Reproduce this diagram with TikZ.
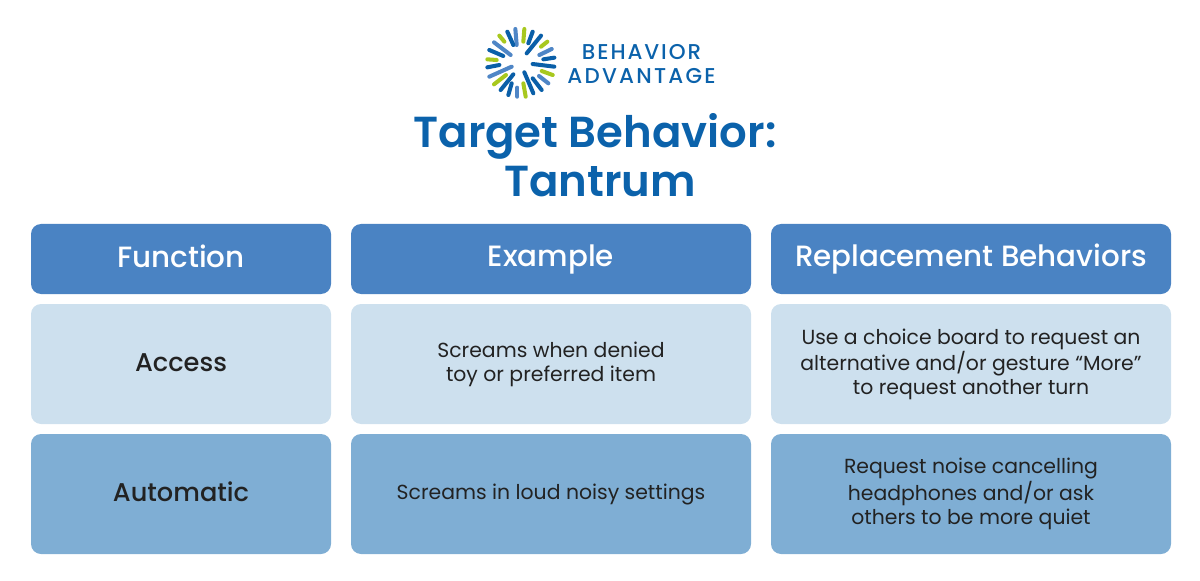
\documentclass[tikz,border=0pt]{standalone}
\usepackage{fontspec}
\setmainfont[BoldFont={Poppins SemiBold}]{Poppins}
\newfontfamily\mediumfont{Poppins Medium}
\definecolor{headblue}{HTML}{4A83C3}
\definecolor{paleblue}{HTML}{CDE0EE}
\definecolor{midblue}{HTML}{7FAED4}
\definecolor{titleblue}{HTML}{0B62AB}
\definecolor{logodark}{HTML}{0A5FA8}
\definecolor{logosteel}{HTML}{4F86C6}
\definecolor{logogreen}{HTML}{A8C81E}
\definecolor{inkdark}{HTML}{222222}
\tikzset{
  cell/.style={rounded corners=0.2cm,inner sep=0pt,align=center,text=inkdark,font=\fontsize{11.6}{13.6}\selectfont},
  headcell/.style={cell,fill=headblue,text=white,minimum height=1.4cm,font=\fontsize{16.7}{18}\mediumfont\selectfont,execute at begin node={\rule[-3.5pt]{0pt}{16.5pt}}},
  palecell/.style={cell,fill=paleblue,minimum height=2.4cm},
  midcell/.style={cell,fill=midblue,minimum height=2.4cm},
  narrow/.style={minimum width=6cm},
  middle/.style={minimum width=8cm},
  rowname/.style={font=\fontsize{14.6}{16}\mediumfont\selectfont,execute at begin node={\rule[-2.9pt]{0pt}{14.4pt}}},
  spoke/.style={line width=2.3pt,line cap=round},
  logotext/.style={text=titleblue,inner sep=0pt,font=\fontsize{12.2}{14}\mediumfont\selectfont},
  titletext/.style={text=titleblue,anchor=base,inner sep=0pt,font=\fontsize{24.7}{28}\selectfont\bfseries}
}
\begin{document}
\begin{tikzpicture}
\useasboundingbox (0,0) rectangle (24,11.6);

% -- logo
\begin{scope}[shift={(9.4,11.3)},x=0.00667cm,y=-0.00667cm]
\foreach \xa/\ya/\xb/\yb/\col in {
  136/42/140/90/logosteel, 163/42/160/80/logogreen, 188/50/175/85/logodark,
  213/62/170/115/logodark, 232/80/213/95/logogreen, 245/102/208/120/logosteel,
  253/128/220/133/logodark, 253/155/188/147/logodark, 248/180/215/168/logogreen,
  235/205/207/183/logosteel, 215/225/188/190/logodark, 190/235/163/172/logodark,
  167/245/160/205/logogreen, 142/245/142/218/logosteel, 115/240/125/205/logodark,
  92/225/130/178/logodark, 72/208/108/180/logogreen, 58/185/125/155/logosteel,
  52/157/88/150/logodark, 52/133/80/135/logogreen, 58/105/100/123/logodark,
  72/82/122/120/logosteel, 88/62/103/80/logogreen, 112/50/130/90/logodark}
  \draw[spoke,\col] (\xa,\ya) -- (\xb,\yb);
\end{scope}
\node [logotext] (logoA) at (12.83,10.56) {\addfontfeature{LetterSpace=9}BEHAVIOR};
\node [logotext] (logoB) at (12.83,10.08) {\addfontfeature{LetterSpace=10.5}ADVANTAGE};

% -- title
\node [titletext] (titleA) at (11.9,8.64) {Target Behavior:};
\node [titletext] (titleB) at (12,7.66) {Tantrum};

% -- header row
\node [headcell,narrow] (headA) at (3.62,6.42) {Function};
\node [headcell,middle] (headB) at (11.02,6.42) {Example};
\node [headcell,middle] (headC) at (19.42,6.42) {Replacement Behaviors};

% -- row 1
\node [palecell,narrow,rowname] (accessA) at (3.62,4.32) {Access};
\node [palecell,middle] (accessB) at (11.02,4.32) {Screams when denied\\toy or preferred item};
\node [palecell,middle] (accessC) at (19.42,4.32) {Use a choice board to request an\\alternative and/or gesture “More”\\to request another turn};

% -- row 2
\node [midcell,narrow,rowname] (autoA) at (3.62,1.72) {Automatic};
\node [midcell,middle] (autoB) at (11.02,1.72) {Screams in loud noisy settings};
\node [midcell,middle] (autoC) at (19.42,1.72) {Request noise cancelling\\headphones and/or ask\\others to be more quiet};
\end{tikzpicture}
\end{document}
